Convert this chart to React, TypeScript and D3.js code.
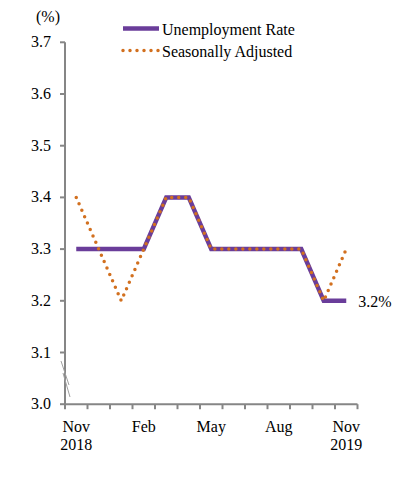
import * as d3 from 'd3';
import { useEffect, useRef } from 'react';

const months = ['Nov 2018', 'Dec', 'Jan', 'Feb', 'Mar', 'Apr', 'May', 'Jun', 'Jul', 'Aug', 'Sep', 'Oct', 'Nov 2019'];
const unemployment = [3.3, 3.3, 3.3, 3.3, 3.4, 3.4, 3.3, 3.3, 3.3, 3.3, 3.3, 3.2, 3.2];
const seasonal = [3.4, 3.3, 3.2, 3.3, 3.4, 3.4, 3.3, 3.3, 3.3, 3.3, 3.3, 3.2, 3.3];
const yTicks = [3.0, 3.1, 3.2, 3.3, 3.4, 3.5, 3.6, 3.7];
const xLabels: { month: string; lines: string[] }[] = [
    { month: 'Nov 2018', lines: ['Nov', '2018'] },
    { month: 'Feb', lines: ['Feb'] },
    { month: 'May', lines: ['May'] },
    { month: 'Aug', lines: ['Aug'] },
    { month: 'Nov 2019', lines: ['Nov', '2019'] },
];

const purple = '#6a3d9a';
const orange = '#d2701f';
const axisGray = '#868686';
const font = 'Liberation Serif, serif';

const App: React.FC = () => {
    const ref = useRef<SVGSVGElement | null>(null);

    useEffect(() => {
        if (!ref.current) return;
        const svg = d3.select(ref.current);
        svg.selectAll('*').remove();

        const x = d3.scaleBand().domain(months).range([65, 357.5]);
        const y = d3.scaleLinear().domain([3.0, 3.7]).range([404.2, 42.3]);
        const cx = (m: string) => x(m)! + x.bandwidth() / 2;

        const txt = (xp: number, yp: number, s: string, anchor = 'start') =>
            svg.append('text')
                .attr('x', xp).attr('y', yp)
                .attr('text-anchor', anchor)
                .attr('font-family', font)
                .attr('font-size', 16)
                .attr('fill', '#000')
                .text(s);

        // y axis
        svg.append('line')
            .attr('x1', 65).attr('x2', 65)
            .attr('y1', y(3.7)).attr('y2', y(3.0))
            .attr('stroke', axisGray).attr('stroke-width', 2);
        yTicks.forEach(t => {
            svg.append('line')
                .attr('x1', 60).attr('x2', 65)
                .attr('y1', y(t)).attr('y2', y(t))
                .attr('stroke', axisGray).attr('stroke-width', 2);
            txt(51, y(t) + 5, t.toFixed(1), 'end');
        });
        txt(48, 22, '(%)', 'middle');

        // axis break marks
        svg.append('line').attr('x1', 61).attr('y1', 361).attr('x2', 69).attr('y2', 385)
            .attr('stroke', '#a0a0a0').attr('stroke-width', 1);
        svg.append('line').attr('x1', 63).attr('y1', 373).attr('x2', 70).attr('y2', 397)
            .attr('stroke', '#a0a0a0').attr('stroke-width', 1);

        // x axis
        svg.append('line')
            .attr('x1', 65).attr('x2', 357.5)
            .attr('y1', y(3.0)).attr('y2', y(3.0))
            .attr('stroke', axisGray).attr('stroke-width', 2);
        [...months.map(m => x(m)!), 357.5].forEach(xp => {
            svg.append('line')
                .attr('x1', xp).attr('x2', xp)
                .attr('y1', y(3.0)).attr('y2', y(3.0) + 5)
                .attr('stroke', axisGray).attr('stroke-width', 2);
        });

        xLabels.forEach(l => {
            l.lines.forEach((s, j) => txt(cx(l.month), 432 + j * 18, s, 'middle'));
        });

        const line = d3.line<number>()
            .x((_d, i) => cx(months[i]))
            .y(d => y(d));

        svg.append('path')
            .datum(unemployment)
            .attr('d', line)
            .attr('fill', 'none')
            .attr('stroke', purple)
            .attr('stroke-width', 4.5);

        svg.append('path')
            .datum(seasonal)
            .attr('d', line)
            .attr('fill', 'none')
            .attr('stroke', orange)
            .attr('stroke-width', 3.5)
            .attr('stroke-linecap', 'round')
            .attr('stroke-dasharray', '0 7');

        const last = unemployment.length - 1;
        txt(cx(months[last]) + 12, y(unemployment[last]) + 6.5, `${unemployment[last].toFixed(1)}%`);

        // legend
        const legend = [
            { label: 'Unemployment Rate', color: purple, dotted: false, y: 28.5 },
            { label: 'Seasonally Adjusted', color: orange, dotted: true, y: 50.5 },
        ];
        legend.forEach(l => {
            const ln = svg.append('line')
                .attr('x1', 123).attr('x2', 159)
                .attr('y1', l.y).attr('y2', l.y)
                .attr('stroke', l.color);
            if (l.dotted) {
                ln.attr('stroke-width', 3.5).attr('stroke-linecap', 'round').attr('stroke-dasharray', '0 7');
            } else {
                ln.attr('stroke-width', 4.5);
            }
            txt(162, l.y + 6, l.label);
        });
    }, []);

    return (
        <svg
            ref={ref}
            width={397}
            height={488}
            style={{ position: 'absolute', left: 0, top: 0, background: '#fff' }}
        />
    );
};

export default App;
